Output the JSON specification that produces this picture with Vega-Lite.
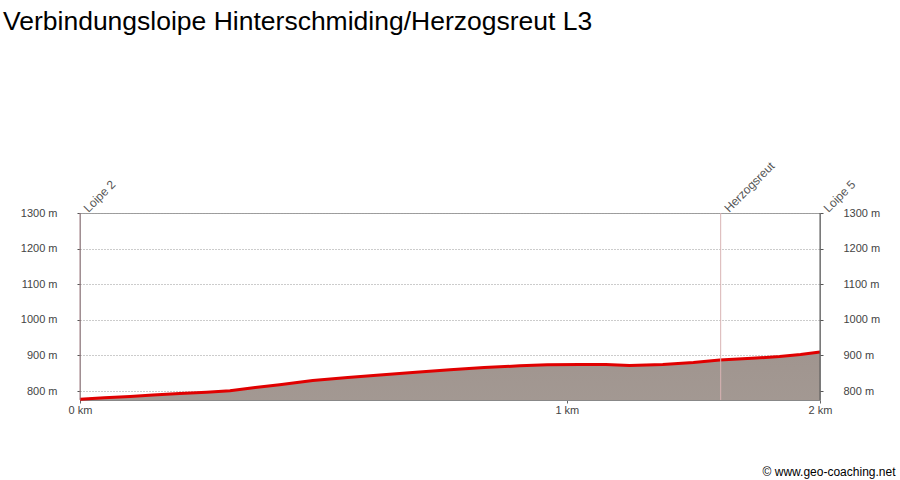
{
  "$schema": "https://vega.github.io/schema/vega-lite/v6.json",
  "autosize": {"type": "none"},
  "width": 740,
  "height": 187,
  "padding": {"left": 80, "top": 213, "right": 80, "bottom": 80},
  "background": "white",
  "config": {
    "font": "Liberation Sans",
    "view": {"stroke": "#a0a0a0", "strokeWidth": 1},
    "axis": {"labelFont": "Liberation Sans", "labelFontSize": 11, "labelColor": "#444444"}
  },
  "title": {
    "text": "Verbindungsloipe Hinterschmiding/Herzogsreut L3",
    "anchor": "start",
    "frame": "group",
    "font": "Liberation Sans",
    "fontSize": 26.5,
    "fontWeight": "normal",
    "color": "#000000",
    "dx": -77,
    "dy": -124,
    "offset": 0
  },
  "datasets": {
    "profile": [
      {"km": 0.0, "ele": 777},
      {"km": 0.05, "ele": 781},
      {"km": 0.103, "ele": 785},
      {"km": 0.15, "ele": 789},
      {"km": 0.205, "ele": 793},
      {"km": 0.26, "ele": 797},
      {"km": 0.308, "ele": 801},
      {"km": 0.36, "ele": 810},
      {"km": 0.41, "ele": 818},
      {"km": 0.478, "ele": 830},
      {"km": 0.55, "ele": 838},
      {"km": 0.616, "ele": 845},
      {"km": 0.69, "ele": 853},
      {"km": 0.76, "ele": 860},
      {"km": 0.83, "ele": 866},
      {"km": 0.903, "ele": 871},
      {"km": 0.96, "ele": 874},
      {"km": 1.027, "ele": 875},
      {"km": 1.08, "ele": 875},
      {"km": 1.129, "ele": 872},
      {"km": 1.197, "ele": 875},
      {"km": 1.26, "ele": 880},
      {"km": 1.314, "ele": 887},
      {"km": 1.38, "ele": 892},
      {"km": 1.437, "ele": 897},
      {"km": 1.48, "ele": 903},
      {"km": 1.52, "ele": 910}
    ],
    "markers": [
      {"km": 0.0, "name": "Loipe 2", "kind": "start"},
      {"km": 1.316, "name": "Herzogsreut", "kind": "mid"},
      {"km": 1.52, "name": "Loipe 5", "kind": "end"}
    ]
  },
  "resolve": {"axis": {"y": "independent"}},
  "layer": [
    {
      "data": {"name": "profile"},
      "mark": {
        "type": "area",
        "clip": true,
        "fill": {
          "gradient": "linear",
          "x1": 0, "y1": 0, "x2": 0, "y2": 1,
          "stops": [
            {"offset": 0, "color": "#a0958f"},
            {"offset": 0.95, "color": "#b1a9a3"},
            {"offset": 1, "color": "#948c87"}
          ]
        }
      },
      "encoding": {
        "x": {
          "field": "km", "type": "quantitative",
          "scale": {"domain": [0, 1.52], "nice": false, "zero": false},
          "axis": {
            "values": [0, 1, 1.52],
            "labelExpr": "datum.value == 0 ? '0 km' : (datum.value == 1 ? '1 km' : '2 km')",
            "grid": false,
            "domain": true,
            "domainColor": "#888888",
            "ticks": true,
            "tickSize": 3,
            "tickColor": "#666666",
            "labelPadding": 1,
            "labelFlush": false,
            "title": "© www.geo-coaching.net",
            "titleFont": "Liberation Sans",
            "titleFontSize": 12,
            "titleFontWeight": "normal",
            "titleColor": "#000000",
            "titleAnchor": "end",
            "titleAlign": "right",
            "titleBaseline": "alphabetic",
            "titleX": 815,
            "titleY": 75
          }
        },
        "y": {
          "field": "ele", "type": "quantitative",
          "scale": {"domain": [775, 1300], "nice": false, "zero": false},
          "axis": {
            "orient": "left",
            "values": [800, 900, 1000, 1100, 1200, 1300],
            "labelExpr": "datum.value + ' m'",
            "grid": true,
            "gridColor": "#999999",
            "gridDash": [1, 2],
            "domain": false,
            "ticks": true,
            "tickSize": 3,
            "tickColor": "#555555",
            "labelPadding": 20,
            "title": null
          }
        }
      }
    },
    {
      "data": {"name": "profile"},
      "mark": {"type": "line", "color": "#e00000", "strokeWidth": 3, "clip": false},
      "encoding": {
        "x": {"field": "km", "type": "quantitative"},
        "y": {
          "field": "ele", "type": "quantitative",
          "axis": {
            "orient": "right",
            "values": [800, 900, 1000, 1100, 1200, 1300],
            "labelExpr": "datum.value + ' m'",
            "grid": false,
            "domain": false,
            "ticks": true,
            "tickSize": 3,
            "tickColor": "#555555",
            "labelPadding": 20,
            "title": null
          }
        }
      }
    },
    {
      "data": {"name": "markers"},
      "mark": {"type": "rule", "strokeWidth": 1},
      "encoding": {
        "x": {"field": "km", "type": "quantitative"},
        "color": {
          "field": "kind", "type": "nominal",
          "scale": {"domain": ["start", "mid", "end"], "range": ["#a07f84", "#d9b3b3", "#555555"]},
          "legend": null
        }
      }
    },
    {
      "data": {"name": "markers"},
      "mark": {
        "type": "text",
        "angle": -45,
        "align": "left",
        "baseline": "middle",
        "dx": 6,
        "dy": 2,
        "font": "Liberation Sans",
        "fontSize": 12,
        "color": "#555555"
      },
      "encoding": {
        "x": {"field": "km", "type": "quantitative"},
        "y": {"datum": 1300, "type": "quantitative", "axis": null},
        "text": {"field": "name"}
      }
    }
  ]
}
